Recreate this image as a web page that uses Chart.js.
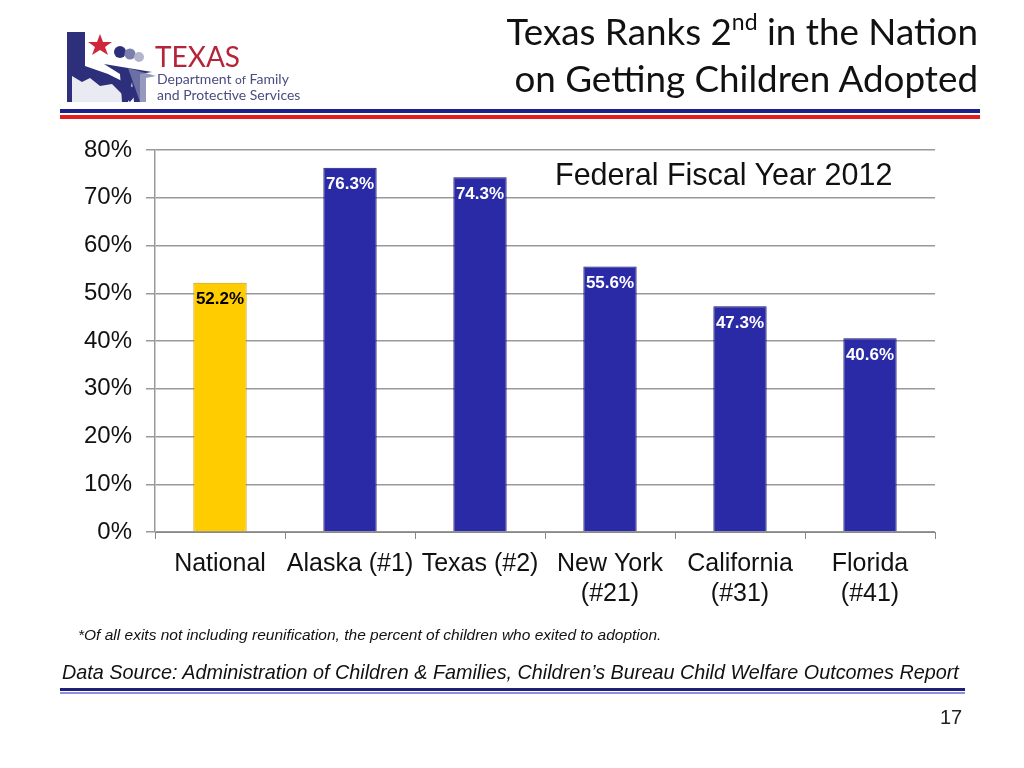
<!DOCTYPE html>
<html>
<head>
<meta charset="utf-8">
<script src="https://cdn.jsdelivr.net/npm/chart.js@4.4.1/dist/chart.umd.min.js"></script>
<style>
  body{margin:0;background:#fff;width:1024px;height:768px;overflow:hidden;position:relative;font-family:"Liberation Sans",Arial,sans-serif}
  #wrap{position:absolute;left:0;top:0;width:1024px;height:768px}
  .abs{position:absolute;white-space:nowrap}
  #title{right:46px;top:8px;text-align:right;font-family:Lato,"Open Sans",sans-serif;font-size:36.8px;line-height:47px;color:#111}
  #title sup{font-size:23px;line-height:0;vertical-align:0;position:relative;top:-15px}
  .bar1{left:60px;width:920px;height:4px;background:#1f1f8c}
  .bar2{left:60px;width:920px;height:4px;background:#e01e1e}
  #fy{left:555px;top:157px;font-size:30.5px;color:#111}
  #note{left:78px;top:626px;font-size:15.5px;font-style:italic;color:#111}
  #src{left:62px;top:661px;font-size:19.8px;font-style:italic;color:#111}
  #foot1{left:60px;top:688px;width:905px;height:3px;background:#1f1f7a}
  #foot2{left:60px;top:692px;width:905px;height:2px;background:#8e8ee0}
  #pg{left:940px;top:706px;font-size:20px;color:#222}
</style>
</head>
<body>
<div id="wrap"><canvas id="c"></canvas></div>

<svg class="abs" style="left:60px;top:28px" width="250" height="80" viewBox="0 0 250 80">
  <polygon points="7,4 25,4 25,38 48,46 60,52 70,58 80,62 70,74 7,74" fill="#2d2f7a"/>
  <polygon points="12,48 22,54 30,50 40,58 52,56 62,66 70,74 12,74" fill="#ffffff" opacity="0.9"/>
  <polygon points="40,6 43,14 52,14 45,19 48,27 40,22 32,27 35,19 28,14 37,14" fill="#d0263a"/>
  <circle cx="60" cy="24" r="6" fill="#2d2f7a"/>
  <circle cx="70" cy="26" r="5.5" fill="#7b7fae"/>
  <circle cx="79" cy="29" r="5" fill="#b3b5cf"/>
  <path d="M44,36 L92,44 L80,46 L80,74 L74,74 L72,54 L68,74 L62,74 L60,46 Z" fill="#2d2f7a"/>
  <path d="M68,40 L96,48 L86,50 L86,74 L80,74" fill="#7b7fae" opacity="0.8"/>
  <text x="95" y="39" font-family="Lato,sans-serif" font-size="28" fill="#b6243a">TEXAS</text>
  <text x="97" y="56" font-family="Lato,sans-serif" font-size="14" fill="#4a4c80">Department <tspan font-size="12">of</tspan> Family</text>
  <text x="97" y="72" font-family="Lato,sans-serif" font-size="14" fill="#4a4c80">and Protective Services</text>
</svg>

<div id="title" class="abs">Texas Ranks 2<sup>nd</sup> in the Nation<br>on Getting Children Adopted</div>
<div class="abs bar1" style="top:109px"></div>
<div class="abs bar2" style="top:115px"></div>
<div id="fy" class="abs">Federal Fiscal Year 2012</div>
<div id="note" class="abs">*Of all exits not including reunification, the percent of children who exited to adoption.</div>
<div id="src" class="abs">Data Source: Administration of Children &amp; Families, Children’s Bureau Child Welfare Outcomes Report</div>
<div id="foot1" class="abs"></div>
<div id="foot2" class="abs"></div>
<div id="pg" class="abs">17</div>

<script>
const categories = [['National'], ['Alaska (#1)'], ['Texas (#2)'], ['New York', '(#21)'], ['California', '(#31)'], ['Florida', '(#41)']];
const adoptionRate = [52.2, 76.3, 74.3, 55.6, 47.3, 40.6];
const barColors = ['#ffcc00', '#2a2aa6', '#2a2aa6', '#2a2aa6', '#2a2aa6', '#2a2aa6'];
const borderColors = ['#c49a00', '#15156a', '#15156a', '#15156a', '#15156a', '#15156a'];
const labelColors = ['#000', '#fff', '#fff', '#fff', '#fff', '#fff'];
const yTicks = [0, 10, 20, 30, 40, 50, 60, 70, 80];

const valueLabels = {
  id: 'valueLabels',
  afterDatasetsDraw(chart){
    const ctx = chart.ctx;
    const meta = chart.getDatasetMeta(0);
    ctx.save();
    ctx.font = 'bold 17px "Liberation Sans", Arial, sans-serif';
    ctx.textAlign = 'center';
    ctx.textBaseline = 'middle';
    meta.data.forEach((bar, i) => {
      ctx.fillStyle = labelColors[i];
      ctx.fillText(adoptionRate[i].toFixed(1) + '%', bar.x, bar.y + 17);
    });
    ctx.restore();
  }
};

new Chart(document.getElementById('c'), {
  type: 'bar',
  data: {
    labels: categories,
    datasets: [{
      data: adoptionRate,
      backgroundColor: barColors,
      borderColor: borderColors,
      borderWidth: 1,
      categoryPercentage: 1,
      barPercentage: 0.41
    }]
  },
  options: {
    responsive: true,
    maintainAspectRatio: false,
    animation: false,
    layout: { padding: { left: 60, right: 89, top: 150, bottom: 0 } },
    plugins: { legend: { display: false }, tooltip: { enabled: false } },
    scales: {
      x: {
        grid: { display: true, drawOnChartArea: false, tickLength: 7, color: '#888' },
        border: { color: '#888', width: 1 },
        ticks: { color: '#111', font: { size: 25, family: '"Liberation Sans", Arial, sans-serif' }, padding: 10, maxRotation: 0, autoSkip: false },
        afterFit(s){ s.height = 768 - 532; }
      },
      y: {
        min: 0, max: 80,
        afterBuildTicks(s){ s.ticks = yTicks.map(v => ({ value: v })); },
        grid: { color: '#999', lineWidth: 1.5, tickLength: 9 },
        border: { color: '#999', width: 1.5 },
        ticks: { color: '#111', font: { size: 24, family: '"Liberation Sans", Arial, sans-serif' }, padding: 14, callback: v => v + '%' },
        afterFit(s){ s.width = 95; }
      }
    }
  },
  plugins: [valueLabels]
});
</script>
</body>
</html>
